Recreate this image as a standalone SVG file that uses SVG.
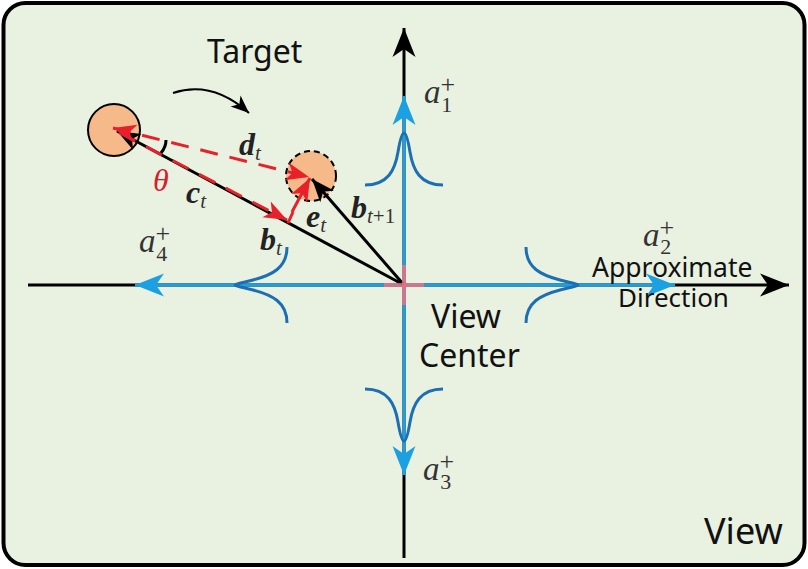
<svg xmlns="http://www.w3.org/2000/svg" width="808" height="569" viewBox="0 0 808 569">
<style>
.sans{font-family:"Noto Sans","Open Sans",sans-serif;fill:#111}
.math{font-family:"Liberation Serif","DejaVu Serif",serif;font-style:italic;fill:#333}
.up{font-style:normal;font-size:26px}
.dn{font-style:normal;font-size:22px}
.vec{font-family:"Liberation Serif","DejaVu Serif",serif;font-style:italic;font-weight:bold;fill:#222}
.sub{font-weight:normal;font-size:21px;fill:#333}
.axis{stroke:#000;stroke-width:3;fill:none}
.baxis{stroke:#1ba1e2;stroke-width:3;fill:none}
.bell{stroke:#1c6fb3;stroke-width:3;fill:none}
.blk{stroke:#000;stroke-width:3;fill:none}
.red{stroke:#e8202a;stroke-width:3;fill:none;stroke-dasharray:18 12}
</style>
<defs>
<marker id="ab" viewBox="-30 -13 32 26" markerWidth="32" markerHeight="26" refX="0" refY="0" orient="auto" markerUnits="userSpaceOnUse">
<path d="M0,0 L-29,-11.5 L-21,0 L-29,11.5 Z" fill="#000"/>
</marker>
<marker id="abl" viewBox="-30 -13 32 26" markerWidth="32" markerHeight="26" refX="0" refY="0" orient="auto" markerUnits="userSpaceOnUse">
<path d="M0,0 L-29,-11.5 L-21,0 L-29,11.5 Z" fill="#1ba1e2"/>
</marker>
<marker id="sb" viewBox="-24 -11 26 22" markerWidth="26" markerHeight="22" refX="0" refY="0" orient="auto" markerUnits="userSpaceOnUse">
<path d="M0,0 L-23,-9 L-17,0 L-23,9 Z" fill="#000"/>
</marker>
<marker id="sr" viewBox="-24 -11 26 22" markerWidth="26" markerHeight="22" refX="0" refY="0" orient="auto-start-reverse" markerUnits="userSpaceOnUse">
<path d="M0,0 L-23,-9 L-17,0 L-23,9 Z" fill="#e8202a"/>
</marker>
<marker id="cur" viewBox="-20 -9 22 18" markerWidth="22" markerHeight="18" refX="0" refY="0" orient="auto" markerUnits="userSpaceOnUse">
<path d="M0,0 L-18,-7.5 L-13,0 L-18,7.5 Z" fill="#000"/>
</marker>
</defs>

<g id="frame">
<rect x="3.5" y="3" width="801" height="562" rx="22" ry="22" fill="#e9f1e1" stroke="#000" stroke-width="4"/>
</g>

<g id="connectors">
<line class="axis" x1="404" y1="558" x2="404" y2="28" marker-end="url(#ab)"/>
<line class="axis" x1="28" y1="285" x2="789" y2="285" marker-end="url(#ab)"/>
<line class="baxis" x1="404" y1="285" x2="404" y2="96" marker-end="url(#abl)"/>
<line class="baxis" x1="404" y1="285" x2="404" y2="475" marker-end="url(#abl)"/>
<line class="baxis" x1="404" y1="285" x2="135" y2="285" marker-end="url(#abl)"/>
<line class="baxis" x1="404" y1="285" x2="675" y2="285" marker-end="url(#abl)"/>
<path class="bell" d="M365,185 C388,185 395,170 398,152 C400,140 402,133 404,133 C406,133 408,140 410,152 C413,170 420,185 443,185"/>
<path class="bell" d="M365,389 C388,389 395,404 398,422 C400,434 402,441 404,441 C406,441 408,434 410,422 C413,404 420,389 443,389"/>
<path class="bell" d="M287,247 C287,268 272,275 253,280 C241,283 235,284 235,285 C235,286 241,287 253,290 C272,295 287,302 287,323"/>
<path class="bell" d="M526,247 C526,268 541,275 560,280 C572,283 578,284 578,285 C578,286 572,287 560,290 C541,295 526,302 526,323"/>
<path d="M173,93 Q212,80 249,113" stroke="#000" stroke-width="2" fill="none" marker-end="url(#cur)"/>
</g>

<g id="target-old">
<circle cx="114" cy="130" r="26" fill="#f5b98a" stroke="#000" stroke-width="2"/>
</g>
<g id="target-new">
<circle cx="311" cy="176" r="25" fill="#f5b98a" stroke="#000" stroke-width="2" stroke-dasharray="6 4"/>
</g>

<g id="vectors">
<line class="blk" x1="404" y1="285" x2="117" y2="131" marker-end="url(#sb)"/>
<line class="blk" x1="404" y1="285" x2="312" y2="179" marker-end="url(#sb)"/>
<line class="red" x1="114" y1="130" x2="287" y2="220" stroke-dashoffset="-6" marker-end="url(#sr)"/>
<line x1="288" y1="223" x2="293" y2="212" stroke="#e8202a" stroke-width="3"/>
<line class="red" x1="113" y1="128" x2="309" y2="177" marker-start="url(#sr)" marker-end="url(#sr)"/>
<line x1="292" y1="212" x2="310" y2="178" stroke="#e8202a" stroke-width="3" marker-end="url(#sr)"/>
<path d="M166,140 Q166,147 161,153" stroke="#000" stroke-width="3" fill="none"/>
</g>

<g id="view-center">
<line x1="384" y1="285" x2="424" y2="285" stroke="#f07080" stroke-width="4" opacity="0.8"/>
<line x1="404" y1="265" x2="404" y2="305" stroke="#f07080" stroke-width="4" opacity="0.8"/>
</g>

<g id="labels">
<text class="sans" x="207" y="63" font-size="32">Target</text>
<text class="sans" x="431" y="328" font-size="32">View</text>
<text class="sans" x="419" y="367" font-size="32">Center</text>
<text class="sans" x="592" y="277" font-size="26.5">Approximate</text>
<text class="sans" x="618" y="307" font-size="26">Direction</text>
<text class="sans" x="704" y="544" font-size="36">View</text>

<text class="math" x="424" y="103" font-size="33">a<tspan class="up" dy="-10">+</tspan><tspan class="dn" dx="-14" dy="19">1</tspan></text>
<text class="math" x="643" y="246" font-size="33">a<tspan class="up" dy="-10">+</tspan><tspan class="dn" dx="-14" dy="18">2</tspan></text>
<text class="math" x="423" y="480" font-size="33">a<tspan class="up" dy="-10">+</tspan><tspan class="dn" dx="-14" dy="19">3</tspan></text>
<text class="math" x="139" y="252" font-size="33">a<tspan class="up" dy="-10">+</tspan><tspan class="dn" dx="-14" dy="19">4</tspan></text>

<text class="vec" x="239" y="155" font-size="32">d<tspan class="sub" font-style="italic" dy="5">t</tspan></text>
<text class="vec" x="186" y="203" font-size="32">c<tspan class="sub" font-style="italic" dy="5">t</tspan></text>
<text class="vec" x="306" y="227" font-size="32">e<tspan class="sub" font-style="italic" dy="5">t</tspan></text>
<text class="vec" x="351" y="218" font-size="32">b<tspan class="sub" font-style="italic" dy="5">t</tspan><tspan class="sub" font-style="normal">+1</tspan></text>
<text class="vec" x="260" y="250" font-size="32">b<tspan class="sub" font-style="italic" dy="5">t</tspan></text>
<text x="153" y="191" font-size="32" font-family="Liberation Serif,DejaVu Serif,serif" font-style="italic" fill="#d4202a">θ</text>
</g>
</svg>
